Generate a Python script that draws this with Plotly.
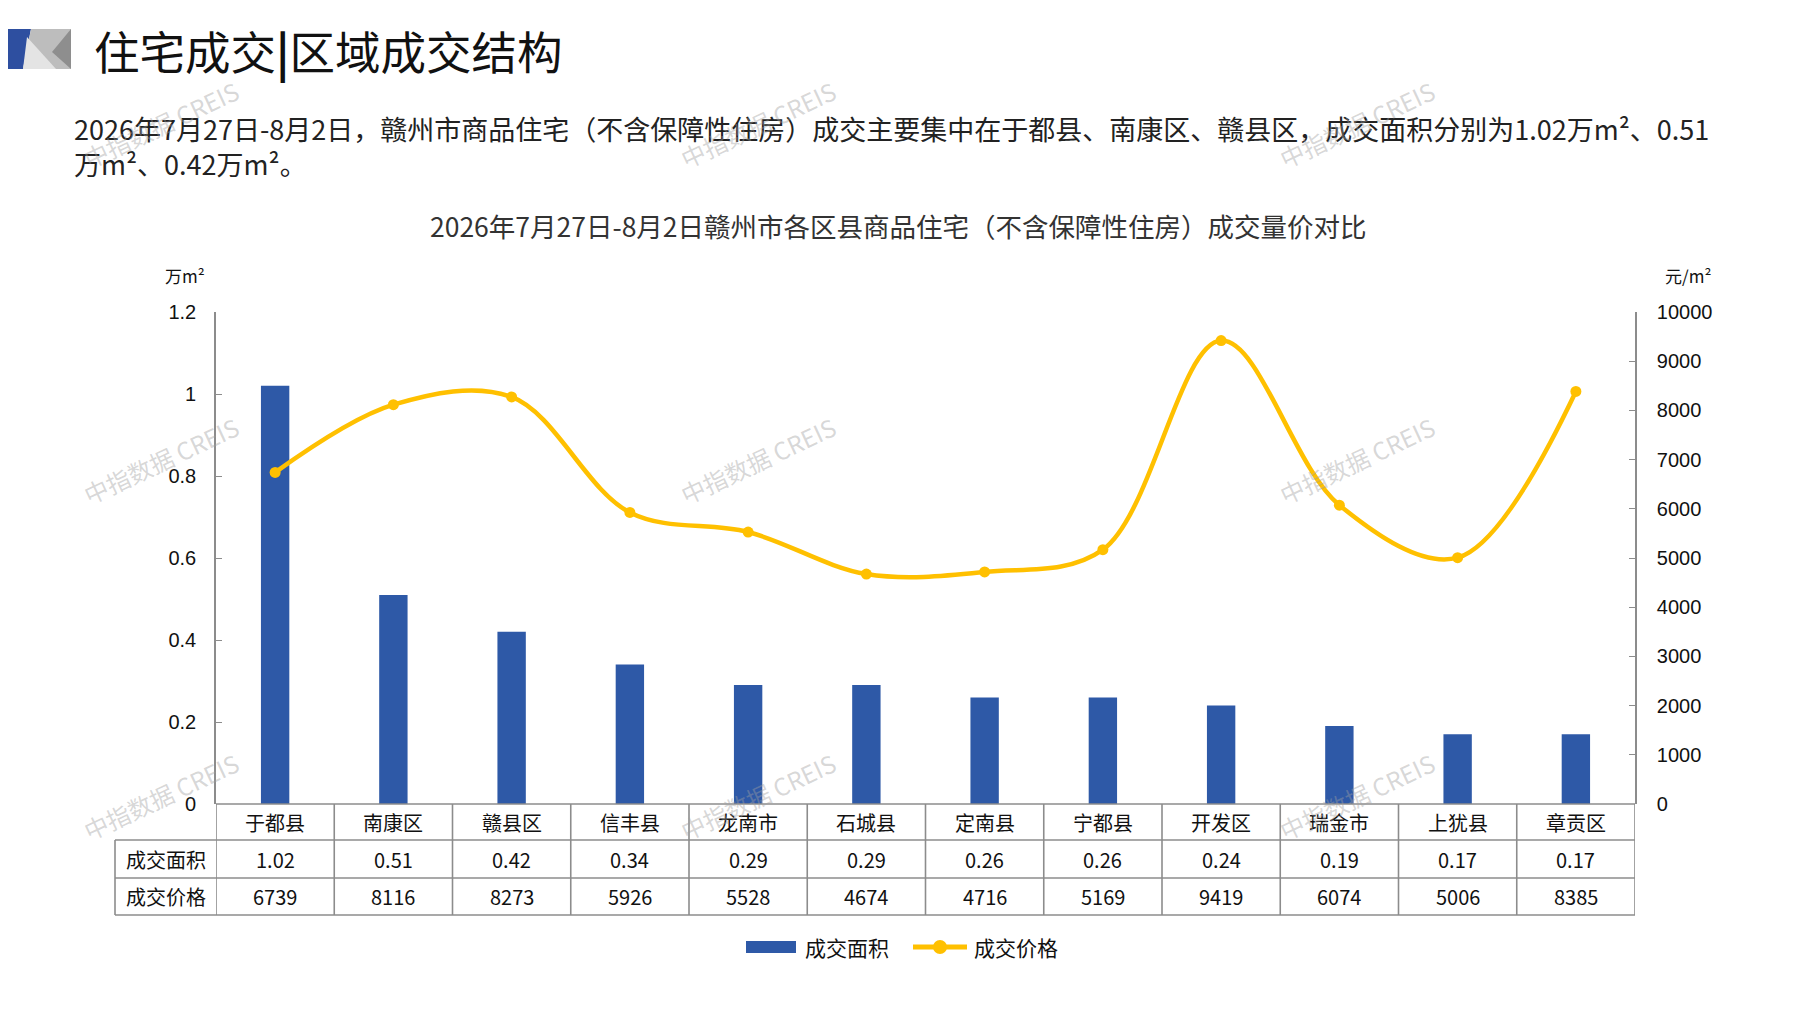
import plotly.graph_objects as go

categories = ["于都县", "南康区", "赣县区", "信丰县", "龙南市", "石城县",
              "定南县", "宁都县", "开发区", "瑞金市", "上犹县", "章贡区"]
area = [1.02, 0.51, 0.42, 0.34, 0.29, 0.29, 0.26, 0.26, 0.24, 0.19, 0.17, 0.17]
area_labels = ["1.02", "0.51", "0.42", "0.34", "0.29", "0.29", "0.26", "0.26", "0.24", "0.19", "0.17", "0.17"]
price = [6739, 8116, 8273, 5926, 5528, 4674, 4716, 5169, 9419, 6074, 5006, 8385]
series_names = ["成交面积", "成交价格"]

W, H = 1797, 1010
OFF = 8  # page body margin
FW, FH = W - 2 * OFF, H - 2 * OFF
L, R, T, B = 216, 1635, 312, 804   # plot area in screen pixels
PW, PH = R - L, B - T

def py(p):  # screen pixel y -> paper y
    return (B - p) / PH

def px(p):  # screen pixel x -> paper x
    return (p - L) / PW

BLUE = "#2E59A7"
YEL = "#FFC000"
GRID = "#8C8C8C"
FONT = "Noto Sans CJK SC"
TXT = "#111111"

fig = go.Figure()
fig.add_trace(go.Bar(x=list(range(len(categories))), y=area, name=series_names[0],
                     marker=dict(color=BLUE, line=dict(width=0)), width=0.24,
                     yaxis="y", showlegend=False))
fig.add_trace(go.Scatter(x=list(range(len(categories))), y=price, name=series_names[1],
                         mode="lines+markers",
                         line=dict(color=YEL, width=4.5, shape="spline", smoothing=1.0),
                         marker=dict(color=YEL, size=11), yaxis="y2", showlegend=False))

shapes = []
ann = []

# Data table under the plot
r0, r1, r2, r3 = 804, 840, 878, 915
tl = 115
line = dict(color=GRID, width=1.6)
for yy in (r1, r2, r3):
    shapes.append(dict(type="line", xref="paper", yref="paper", x0=px(tl), x1=1,
                       y0=py(yy), y1=py(yy), line=line))
shapes.append(dict(type="line", xref="paper", yref="paper", x0=0, x1=1, y0=0, y1=0, line=line))
for i in range(len(categories) + 1):
    shapes.append(dict(type="line", xref="x", yref="paper", x0=i - 0.5, x1=i - 0.5,
                       y0=0, y1=py(r3), line=line))
shapes.append(dict(type="line", xref="paper", yref="paper", x0=px(tl), x1=px(tl),
                   y0=py(r1), y1=py(r3), line=line))

cell_font = dict(family=FONT, size=20, color=TXT)
for i, c in enumerate(categories):
    for txt, (a, b) in [(c, (r0, r1)), (area_labels[i], (r1, r2)), (str(price[i]), (r2, r3))]:
        ann.append(dict(x=i, y=py((a + b) / 2), xref="x", yref="paper", text=txt,
                        xanchor="center", yanchor="middle", showarrow=False, font=cell_font))
for lab, (a, b) in [(series_names[0], (r1, r2)), (series_names[1], (r2, r3))]:
    ann.append(dict(x=px((tl + L) / 2), y=py((a + b) / 2), xref="paper", yref="paper", text=lab,
                    xanchor="center", yanchor="middle", showarrow=False, font=cell_font))

# Header logo
def poly(pts):
    return "M " + " L ".join(f"{px(x)} {py(y)}" for x, y in pts) + " Z"

shapes += [
    dict(type="path", xref="paper", yref="paper", path=poly([(0, 29), (31, 29), (23, 69), (0, 69)]),
         fillcolor="#2E4FA0", line=dict(width=0)),
    dict(type="path", xref="paper", yref="paper", path=poly([(31, 29), (71, 29), (71, 69), (23, 69)]),
         fillcolor="#BDBDBD", line=dict(width=0)),
    dict(type="path", xref="paper", yref="paper", path=poly([(27, 37), (56, 69), (23, 69)]),
         fillcolor="#E4E4E4", line=dict(width=0)),
    dict(type="path", xref="paper", yref="paper", path=poly([(71, 29), (71, 69), (52, 52)]),
         fillcolor="#8E8E8E", line=dict(width=0)),
]

def text(x, y, s, size, color=TXT, xa="center", align="center"):
    ann.append(dict(x=px(x), y=py(y), xref="paper", yref="paper", xanchor=xa, yanchor="middle",
                    align=align, text=s, showarrow=False,
                    font=dict(family=FONT, size=size, color=color)))

text(92, 50, "住宅成交<b>|</b>区域成交结构", 45.5, xa="left")
text(72, 146, "2026年7月27日-8月2日，赣州市商品住宅（不含保障性住房）成交主要集中在于都县、南康区、赣县区，成交面积分别为1.02万m²、0.51<br>万m²、0.42万m²。",
     27, color="#222222", xa="left", align="left")
text(898, 225, "2026年7月27日-8月2日赣州市各区县商品住宅（不含保障性住房）成交量价对比", 26.5, color="#333333")
text(185, 275, "万m²", 17)
text(1688, 275, "元/m²", 17)

# Legend (drawn)
shapes.append(dict(type="rect", xref="paper", yref="paper", x0=px(746), x1=px(796),
                   y0=py(953), y1=py(941), fillcolor=BLUE, line=dict(width=0)))
text(803, 947, series_names[0], 21, xa="left")
shapes.append(dict(type="line", xref="paper", yref="paper", x0=px(913), x1=px(967),
                   y0=py(947), y1=py(947), line=dict(color=YEL, width=5)))
shapes.append(dict(type="circle", xref="paper", yref="paper", x0=px(933), x1=px(947),
                   y0=py(954), y1=py(940), fillcolor=YEL, line=dict(width=0)))
text(972, 947, series_names[1], 21, xa="left")

# Watermarks
for wx in [160, 757, 1356]:
    for wy in [124, 460, 796]:
        ann.append(dict(x=px(wx), y=py(wy), xref="paper", yref="paper", text="中指数据 CREIS",
                        xanchor="center", yanchor="middle", textangle=-25, showarrow=False,
                        font=dict(family=FONT, size=24, color="rgba(160,160,160,0.42)")))

tickfont = dict(family="Liberation Sans", size=20, color=TXT)
fig.update_layout(
    width=FW, height=FH, autosize=False,
    margin=dict(l=L - OFF, r=W - OFF - R, t=T - OFF, b=H - OFF - B, pad=0),
    paper_bgcolor="white", plot_bgcolor="white",
    font=dict(family=FONT, color=TXT),
    showlegend=False,
    xaxis=dict(range=[-0.5, len(categories) - 0.5], showticklabels=False, showline=False,
               showgrid=False, zeroline=False, ticks=""),
    yaxis=dict(range=[0, 1.2], dtick=0.2, showgrid=False, zeroline=False, showline=True,
               linecolor=GRID, linewidth=1.6, ticks="inside", ticklen=6, tickcolor=GRID,
               tickfont=tickfont, ticklabelstandoff=14),
    yaxis2=dict(range=[0, 10000], dtick=1000, tickformat="d", overlaying="y", side="right",
                showgrid=False, zeroline=False, showline=True, linecolor=GRID, linewidth=1.6,
                ticks="inside", ticklen=6, tickcolor=GRID, tickfont=tickfont,
                ticklabelstandoff=16),
    shapes=shapes, annotations=ann,
)

fig.write_html("out.html")
